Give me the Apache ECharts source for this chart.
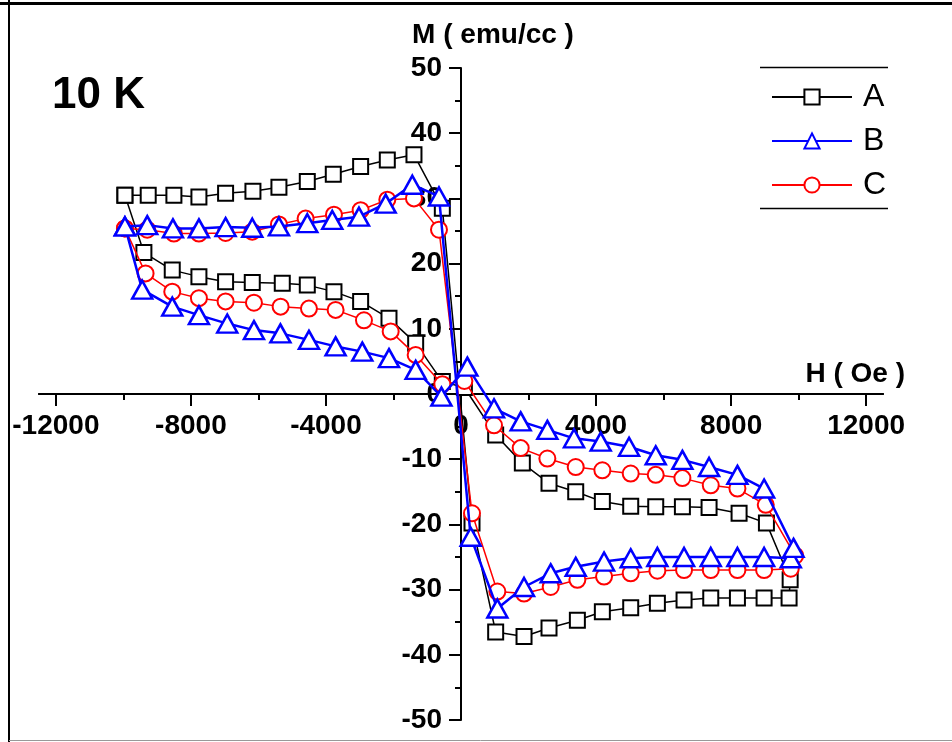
<!DOCTYPE html>
<html><head><meta charset="utf-8">
<script src="https://cdn.jsdelivr.net/npm/echarts@6/dist/echarts.min.js"></script>
<style>html,body{margin:0;padding:0;background:#fff}#c{width:952px;height:742px}</style>
</head><body><div id="c"></div>
<script>
// Series A (black squares) – loop order: increasing H branch, then decreasing H branch
const hA = [-9955,-9265,-8504,-7763,-6973,-6163,-5393,-4553,-3783,-2973,-2183,-1393,-553,326,1027,1867,2607,3447,4187,5027,5817,6607,7398,8188,8978,9718,
            9750,9047,8237,7348,6558,5768,5027,4187,3398,2607,1817,1027,100,-553,-1343,-2133,-2973,-3763,-4553,-5294,-6183,-6973,-7763,-8553,-9393,-9955];
const mA = [30.5,30.5,30.5,30.2,30.8,31.1,31.7,32.6,33.7,34.9,35.9,36.7,28.5,-19.8,-36.5,-37.2,-35.9,-34.7,-33.4,-32.8,-32.1,-31.6,-31.3,-31.3,-31.3,-31.3,
            -28.5,-19.8,-18.3,-17.4,-17.3,-17.3,-17.2,-16.5,-15.0,-13.7,-10.6,-6.3,1.0,1.9,7.8,11.6,14.2,15.7,16.7,17.0,17.1,17.2,18.0,19.0,21.7,30.5];
// Series B (blue triangles)
const hB = [-9955,-9294,-8533,-7763,-6973,-6183,-5393,-4553,-3813,-3022,-2232,-1442,-652,287,1077,1867,2657,3398,4237,5027,5817,6607,7398,8188,8978,9768,
            9850,8978,8188,7348,6558,5768,4978,4138,3348,2558,1768,978,188,-580,-1343,-2133,-2924,-3714,-4504,-5350,-6133,-6924,-7763,-8553,-9443,-9955];
const mB = [25.7,25.9,25.4,25.4,25.6,25.5,25.7,26.2,26.7,27.2,29.2,32.1,30.3,-21.9,-32.9,-29.6,-27.5,-26.5,-25.7,-25.2,-25.0,-25.0,-25.0,-25.0,-25.0,-25.2,
            -23.6,-14.5,-12.4,-11.2,-10.1,-9.4,-8.1,-7.3,-6.8,-5.5,-4.2,-2.2,4.2,-0.4,3.7,5.5,6.5,7.3,8.3,9.3,9.8,10.8,12.1,13.4,16.0,25.7];
// Series C (red circles)
const hC = [-9955,-9294,-8504,-7763,-6973,-6183,-5393,-4603,-3763,-2973,-2183,-1393,-652,326,1077,1867,2657,3447,4237,5027,5817,6607,7398,8188,8978,9768,
            9900,9027,8188,7398,6558,5768,5027,4187,3398,2558,1768,978,100,-553,-1343,-2083,-2874,-3714,-4504,-5343,-6133,-6973,-7763,-8553,-9343,-9955];
const mC = [25.4,25.2,24.6,24.6,24.7,24.9,26.0,26.9,27.5,28.2,29.8,30.0,25.2,-18.3,-30.3,-30.6,-29.6,-28.5,-28.0,-27.5,-27.1,-27.0,-27.0,-27.0,-27.0,-26.8,
            -24.8,-17.0,-14.5,-14.0,-12.9,-12.4,-12.2,-11.7,-11.2,-9.9,-8.3,-4.8,2.0,1.5,6.0,9.6,11.3,12.9,13.1,13.4,14.0,14.2,14.7,15.7,18.5,25.4];

const seriesNames = ['A','B','C'];
const xMajorTicks = [-12000,-8000,-4000,0,4000,8000,12000];
const xMinorTicks = [-10000,-6000,-2000,2000,6000,10000];
const xRange = [-12500,12500];
const yRange = [-50,50];
const yStep = 10;
const xTitle = 'H ( Oe )';
const yTitle = 'M ( emu/cc )';
const annotation = '10 K';

const pairs = (h, m) => h.map((v, i) => [v, m[i]]);
const FONT = 'Liberation Sans, Arial, sans-serif';

// plot box
const G = {left: 39, right: 69, top: 68, bottom: 22};
const W = 952 - G.left - G.right, H = 742 - G.top - G.bottom;
// move axes onto the zero lines (axes cross at the origin)
const yAxisOffset = -(0 - xRange[0]) / (xRange[1] - xRange[0]) * W;
const xAxisOffset = -(0 - yRange[0]) / (yRange[1] - yRange[0]) * H;

const chart = echarts.init(document.getElementById('c'), null, {renderer: 'canvas'});
const axisLineStyle = {color: '#000', width: 2};
const tickStyle = {color: '#000', width: 2};

chart.setOption({
  animation: false,
  backgroundColor: '#fff',
  grid: Object.assign({containLabel: false, outerBoundsMode: 'none'}, G),
  xAxis: [
    {
      type: 'value', min: xRange[0], max: xRange[1], position: 'bottom', offset: xAxisOffset,
      axisLine: {onZero: false, lineStyle: axisLineStyle},
      axisTick: {length: 12, lineStyle: tickStyle, customValues: xMajorTicks},
      axisLabel: {customValues: xMajorTicks, formatter: v => String(v), fontSize: 28, fontWeight: 'bold', fontFamily: FONT, color: '#000', margin: 18},
      splitLine: {show: false},
      name: xTitle, nameLocation: 'end', nameGap: 22,
      nameTextStyle: {fontSize: 28, fontWeight: 'bold', fontFamily: FONT, color: '#000', align: 'right', verticalAlign: 'bottom', padding: [0, 0, 6, 0]}
    },
    {
      type: 'value', min: xRange[0], max: xRange[1], position: 'bottom', offset: xAxisOffset,
      axisLine: {onZero: false, lineStyle: axisLineStyle},
      axisTick: {length: 6, lineStyle: tickStyle, customValues: xMinorTicks},
      axisLabel: {show: false},
      splitLine: {show: false}
    }
  ],
  yAxis: {
    type: 'value', min: yRange[0], max: yRange[1], interval: yStep, position: 'left', offset: yAxisOffset,
    axisLine: {onZero: false, lineStyle: axisLineStyle},
    axisTick: {length: 12, lineStyle: tickStyle},
    minorTick: {show: true, splitNumber: 2, length: 6, lineStyle: tickStyle},
    splitLine: {show: false}, minorSplitLine: {show: false},
    axisLabel: {fontSize: 28, fontWeight: 'bold', fontFamily: FONT, color: '#000', margin: 19},
    name: yTitle, nameLocation: 'end', nameGap: 19,
    nameTextStyle: {fontSize: 28, fontWeight: 'bold', fontFamily: FONT, color: '#000', padding: [0, 0, 0, 64]}
  },
  legend: {
    data: seriesNames, orient: 'vertical', left: 771, top: 80, padding: 0,
    itemWidth: 80, itemHeight: 19, itemGap: 10,
    textStyle: {fontSize: 32, lineHeight: 34, fontFamily: FONT, color: '#000', padding: [0, 0, 0, 6]}
  },
  graphic: [
    {type: 'line', shape: {x1: 0, y1: 3.5, x2: 952, y2: 3.5}, style: {stroke: '#000', lineWidth: 3}},
    {type: 'line', shape: {x1: 9, y1: 0, x2: 9, y2: 742}, style: {stroke: '#000', lineWidth: 2}},
    {type: 'line', shape: {x1: 9, y1: 740.5, x2: 952, y2: 740.5}, style: {stroke: '#999', lineWidth: 1}},
    {type: 'line', shape: {x1: 760, y1: 67.5, x2: 888, y2: 67.5}, style: {stroke: '#000', lineWidth: 1.5}},
    {type: 'line', shape: {x1: 760, y1: 208.5, x2: 888, y2: 208.5}, style: {stroke: '#000', lineWidth: 1.5}},
    {type: 'text', left: 52, top: 74, style: {text: annotation, font: 'bold 44px ' + FONT, fill: '#000'}}
  ],
  series: [
    {
      name: 'A', type: 'line', data: pairs(hA, mA), z: 2,
      symbol: 'rect', symbolSize: 15,
      lineStyle: {color: '#000', width: 1.5},
      itemStyle: {color: '#fff', borderColor: '#000', borderWidth: 2}
    },
    {
      name: 'C', type: 'line', data: pairs(hC, mC), z: 3,
      symbol: 'circle', symbolSize: 16,
      lineStyle: {color: '#ff0000', width: 1.5},
      itemStyle: {color: '#fff', borderColor: '#ff0000', borderWidth: 2}
    },
    {
      name: 'B', type: 'line', data: pairs(hB, mB), z: 4,
      symbol: 'triangle', symbolSize: [20, 18],
      lineStyle: {color: '#0000ff', width: 2.5},
      itemStyle: {color: '#fff', borderColor: '#0000ff', borderWidth: 2.5}
    }
  ]
});
</script>
</body></html>
